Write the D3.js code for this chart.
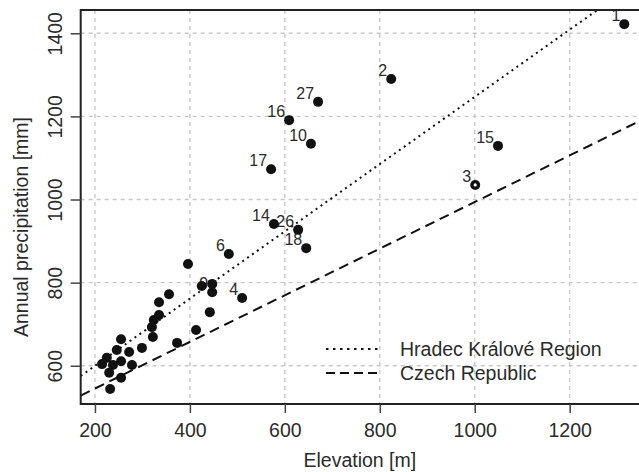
<!DOCTYPE html>
<html>
<head>
<meta charset="utf-8">
<script src="https://cdn.jsdelivr.net/npm/d3@7"></script>
<style>
  html, body { margin: 0; padding: 0; background: #fff; }
  svg { display: block; font-family: "Liberation Sans", Arial, Helvetica, sans-serif; }
</style>
</head>
<body>
<svg id="chart" width="639" height="472"></svg>
<script>
// ---- data ----
const elevation = [1315, 824, 1049, 1001, 670, 609, 655, 571, 577, 628, 645, 482, 510,
  396, 425, 447, 447, 442, 413, 373, 356, 335, 335, 324, 320, 322, 299,
  255, 246, 272, 255, 225, 215, 238, 278, 230, 255, 232];
const precipitation = [1422, 1290, 1129, 1035, 1235, 1191, 1134, 1073, 941, 927, 883, 869, 763,
  845, 792, 797, 777, 729, 686, 655, 772, 753, 722, 710, 693, 669, 643,
  664, 638, 633, 611, 619, 604, 602, 602, 583, 571, 544];
const pointLabels = ["1", "2", "15", "3", "27", "16", "10", "17", "14", "26", "18", "6", "4",
  "", "", "", "9", "", "", "", "", "", "", "", "", "", "",
  "", "", "", "", "", "", "", "", "", "", ""];
const hollowPoints = ["3"];
const xTicks = [200, 400, 600, 800, 1000, 1200];
const yTicks = [600, 800, 1000, 1200, 1400];
const seriesNames = ["Hradec Králové Region", "Czech Republic"];
const lineIntercepts = [438, 433];
const lineSlopes = [0.809, 0.561];
const xTitle = "Elevation [m]";
const yTitle = "Annual precipitation [mm]";

(function () {
// ---- layout ----
const pL = 80.7, pR = 639, pT = 10, pB = 404;
const x = d3.scaleLinear().domain([170, 1346]).range([pL, pR]);
const y = d3.scaleLinear().domain([508, 1456]).range([pB, pT]);

const svg = d3.select("#chart");
const textColor = "#2b2b2b";

svg.append("defs").append("clipPath").attr("id", "clip")
  .append("rect").attr("x", pL).attr("y", pT)
  .attr("width", pR - pL).attr("height", pB - pT);

const plot = svg.append("g").attr("clip-path", "url(#clip)");

// grid
plot.selectAll(".vgrid").data(xTicks).join("line")
  .attr("x1", d => x(d)).attr("x2", d => x(d))
  .attr("y1", pT).attr("y2", pB)
  .attr("stroke", "#c8c8c8").attr("stroke-width", 1.4).attr("stroke-dasharray", "4,4");
plot.selectAll(".hgrid").data(yTicks).join("line")
  .attr("x1", pL).attr("x2", pR)
  .attr("y1", d => y(d)).attr("y2", d => y(d))
  .attr("stroke", "#c8c8c8").attr("stroke-width", 1.4).attr("stroke-dasharray", "4,4");

// regression lines
const dashes = ["2,4", "10,6"];
const xDom = x.domain();
seriesNames.forEach((name, i) => {
  const pts = xDom.map(v => [v, lineIntercepts[i] + lineSlopes[i] * v]);
  plot.append("path")
    .attr("d", d3.line().x(d => x(d[0])).y(d => y(d[1]))(pts))
    .attr("fill", "none").attr("stroke", "#111").attr("stroke-width", 2)
    .attr("stroke-dasharray", dashes[i]);
});

// point labels (drawn beneath points)
const idx = d3.range(elevation.length);
plot.selectAll(".plabel").data(idx.filter(i => pointLabels[i] !== "")).join("text")
  .attr("x", i => x(elevation[i]) - 4)
  .attr("y", i => y(precipitation[i]) - 3)
  .attr("text-anchor", "end")
  .attr("font-size", 16)
  .attr("fill", textColor)
  .text(i => pointLabels[i]);

// points
plot.selectAll(".pt").data(idx).join("circle")
  .attr("cx", i => x(elevation[i])).attr("cy", i => y(precipitation[i]))
  .attr("r", 5).attr("fill", "#111");
plot.selectAll(".hollow").data(idx.filter(i => hollowPoints.includes(pointLabels[i]))).join("circle")
  .attr("cx", i => x(elevation[i])).attr("cy", i => y(precipitation[i]))
  .attr("r", 1.6).attr("fill", "#fff");

// axes frame (top, left, bottom)
svg.append("path")
  .attr("d", `M${pR},${pT}H${pL}V${pB}H${pR}`)
  .attr("fill", "none").attr("stroke", "#222").attr("stroke-width", 2);

// x axis
const xAxis = svg.append("g").attr("transform", `translate(0,${pB})`)
  .call(d3.axisBottom(x).tickValues(xTicks).tickFormat(d3.format("d")).tickSize(9).tickSizeOuter(0));
xAxis.select(".domain").remove();
xAxis.selectAll(".tick line").attr("stroke", "#444").attr("stroke-width", 1.5);
xAxis.selectAll(".tick text").attr("font-size", 19.5).attr("fill", textColor)
  .attr("font-family", "Liberation Sans, Arial, sans-serif")
  .attr("y", 33).attr("dy", 0);

// y axis
const yAxis = svg.append("g").attr("transform", `translate(${pL},0)`)
  .call(d3.axisLeft(y).tickValues(yTicks).tickFormat(d3.format("d")).tickSize(10).tickSizeOuter(0));
yAxis.select(".domain").remove();
yAxis.selectAll(".tick line").attr("stroke", "#444").attr("stroke-width", 1.5);
yAxis.selectAll(".tick text")
  .attr("font-size", 19.5).attr("fill", textColor)
  .attr("font-family", "Liberation Sans, Arial, sans-serif")
  .attr("transform", "rotate(-90)")
  .attr("x", 0).attr("y", -19).attr("dy", 0)
  .attr("text-anchor", "middle");

// titles
svg.append("text").attr("x", (pL + pR) / 2).attr("y", 467)
  .attr("text-anchor", "middle").attr("font-size", 19.5).attr("fill", textColor)
  .text(xTitle);
svg.append("text")
  .attr("transform", `translate(28,${(pT + pB) / 2 + 20}) rotate(-90)`)
  .attr("text-anchor", "middle").attr("font-size", 19.5).attr("fill", textColor)
  .text(yTitle);

// legend
const legend = svg.append("g");
seriesNames.forEach((name, i) => {
  const ly = 349 + i * 24;
  legend.append("line").attr("x1", 326).attr("x2", 378).attr("y1", ly).attr("y2", ly)
    .attr("stroke", "#111").attr("stroke-width", 2).attr("stroke-dasharray", i === 0 ? "2.5,4.5" : "9,5");
  legend.append("text").attr("x", 400).attr("y", ly + 7)
    .attr("font-size", 19.5).attr("fill", textColor).text(name);
});
})();
</script>
</body>
</html>
